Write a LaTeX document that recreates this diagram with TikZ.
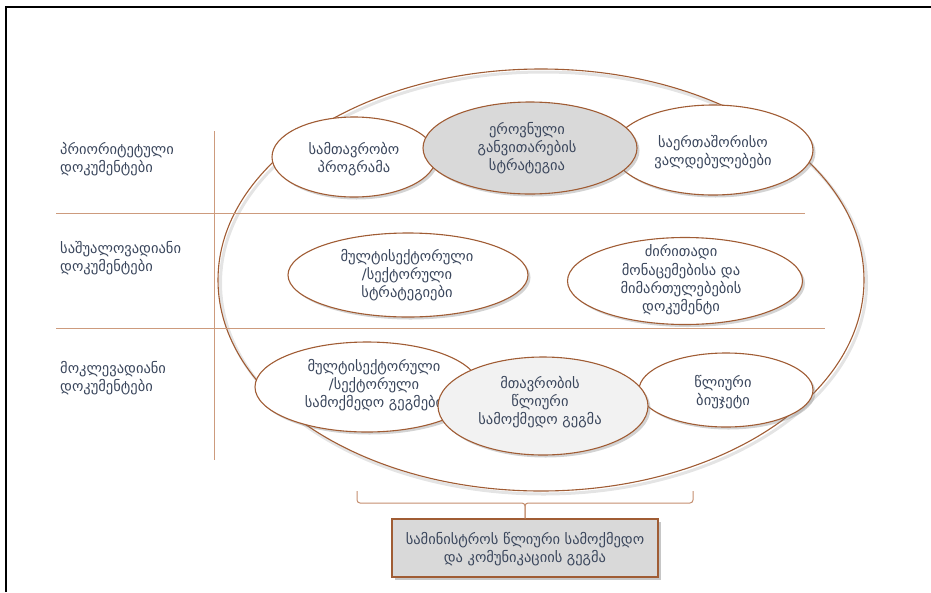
\documentclass[tikz,border=0pt]{standalone}
\usepackage{fontspec}
\setmainfont{DejaVu Sans}
\newfontfamily\geofont{DejaVu Sans}
\usetikzlibrary{shapes.geometric,shadows}
\definecolor{brn}{RGB}{160,92,52}
\definecolor{sepline}{RGB}{205,155,125}
\definecolor{txtc}{RGB}{58,70,92}
\definecolor{gfill}{RGB}{217,217,217}
\definecolor{lgfill}{RGB}{242,242,242}
\tikzset{
  bub/.style={ellipse, draw=brn, line width=1.1pt, fill=white, inner sep=0pt,
    drop shadow={opacity=0.35, shadow xshift=2.5pt, shadow yshift=-2.5pt}},
  txt/.style={text=txtc, align=center, font=\geofont\fontsize{14.5}{18.3}\selectfont, inner sep=0pt},
  lbl/.style={text=txtc, align=left, font=\geofont\fontsize{14.5}{18.3}\selectfont, inner sep=0pt, anchor=west},
  sep/.style={draw=sepline, line width=1pt},
}
\begin{document}
\begin{tikzpicture}[x=1pt,y=-1pt]
\useasboundingbox (0,0) rectangle (931,592);
% frame
\draw[black, line width=1.3pt] (6,592) -- (6,7) -- (931,7);
% big ellipse with soft shadow
\draw[black!30, opacity=0.35, line width=3pt] (543.5,283) ellipse [x radius=323, y radius=211];
\node[ellipse, draw=brn, line width=1.1pt, minimum width=646pt, minimum height=422pt, inner sep=0pt] (big) at (541,280) {};
% separator lines
\coordinate (v1) at (214,131);
\coordinate (v2) at (214,460);
\coordinate (h1a) at (56,213);
\coordinate (h1b) at (805,213);
\coordinate (h2a) at (56,328);
\coordinate (h2b) at (825,328);
\draw[sep] (v1) -- (v2);
\draw[sep] (h1a) -- (h1b);
\draw[sep] (h2a) -- (h2b);
% left labels
\node[lbl] (l1) at (60,159) {პრიორიტეტული\\დოკუმენტები};
\node[lbl] (l2) at (60,258) {საშუალოვადიანი\\დოკუმენტები};
\node[lbl] (l3) at (60,378) {მოკლევადიანი\\დოკუმენტები};
% top row
\node[bub, minimum width=164pt, minimum height=80pt] (e1) at (354,157) {};
\node[txt] (t1) at (354,159) {სამთავრობო\\პროგრამა};
\node[bub, minimum width=200pt, minimum height=90pt] (e3) at (713,150) {};
\node[txt] (t3) at (713,152) {საერთაშორისო\\ვალდებულებები};
\node[bub, fill=gfill, minimum width=214pt, minimum height=92pt] (e2) at (530,148) {};
\node[txt] (t2) at (527,148) {ეროვნული\\განვითარების\\სტრატეგია};
% middle row
\node[bub, minimum width=240pt, minimum height=84pt] (e4) at (408,275) {};
\node[txt] (t4) at (407,275) {მულტისექტორული\\/სექტორული\\სტრატეგიები};
\node[bub, minimum width=235pt, minimum height=87pt] (e5) at (685,281) {};
\node[txt] (t5) at (681,280) {ძირითადი\\მონაცემებისა და\\მიმართულებების\\დოკუმენტი};
% bottom row
\node[bub, minimum width=224pt, minimum height=90pt] (e6) at (367,387) {};
\node[txt] (t6) at (374,385) {მულტისექტორული\\/სექტორული\\სამოქმედო გეგმები};
\node[bub, minimum width=174pt, minimum height=74pt] (e8) at (726,390) {};
\node[txt] (t8) at (723,392) {წლიური\\ბიუჯეტი};
\node[bub, fill=lgfill, minimum width=210pt, minimum height=98pt] (e7) at (543,406) {};
\node[txt] (t7) at (540,402) {მთავრობის\\წლიური\\სამოქმედო გეგმა};
% bottom box
\node[draw=brn, line width=1.1pt, fill=gfill, minimum width=266pt, minimum height=58pt, inner sep=0pt,
  drop shadow={opacity=0.45, shadow xshift=3pt, shadow yshift=-3pt}] (box) at (525,548) {};
\node[txt] (tb) at (525,549) {სამინისტროს წლიური სამოქმედო\\და კომუნიკაციის გეგმა};
% brace
\coordinate (bl) at (357,491);
\coordinate (br) at (693,491);
\draw[draw=sepline!80!brn, line width=1pt, rounded corners=3pt]
  (bl) -- (357,503) -- (box.north |- 0,503) -- (box.north);
\draw[draw=sepline!80!brn, line width=1pt, rounded corners=3pt]
  (br) -- (693,503) -- (box.north |- 0,503) -- (box.north);
\end{tikzpicture}
\end{document}
